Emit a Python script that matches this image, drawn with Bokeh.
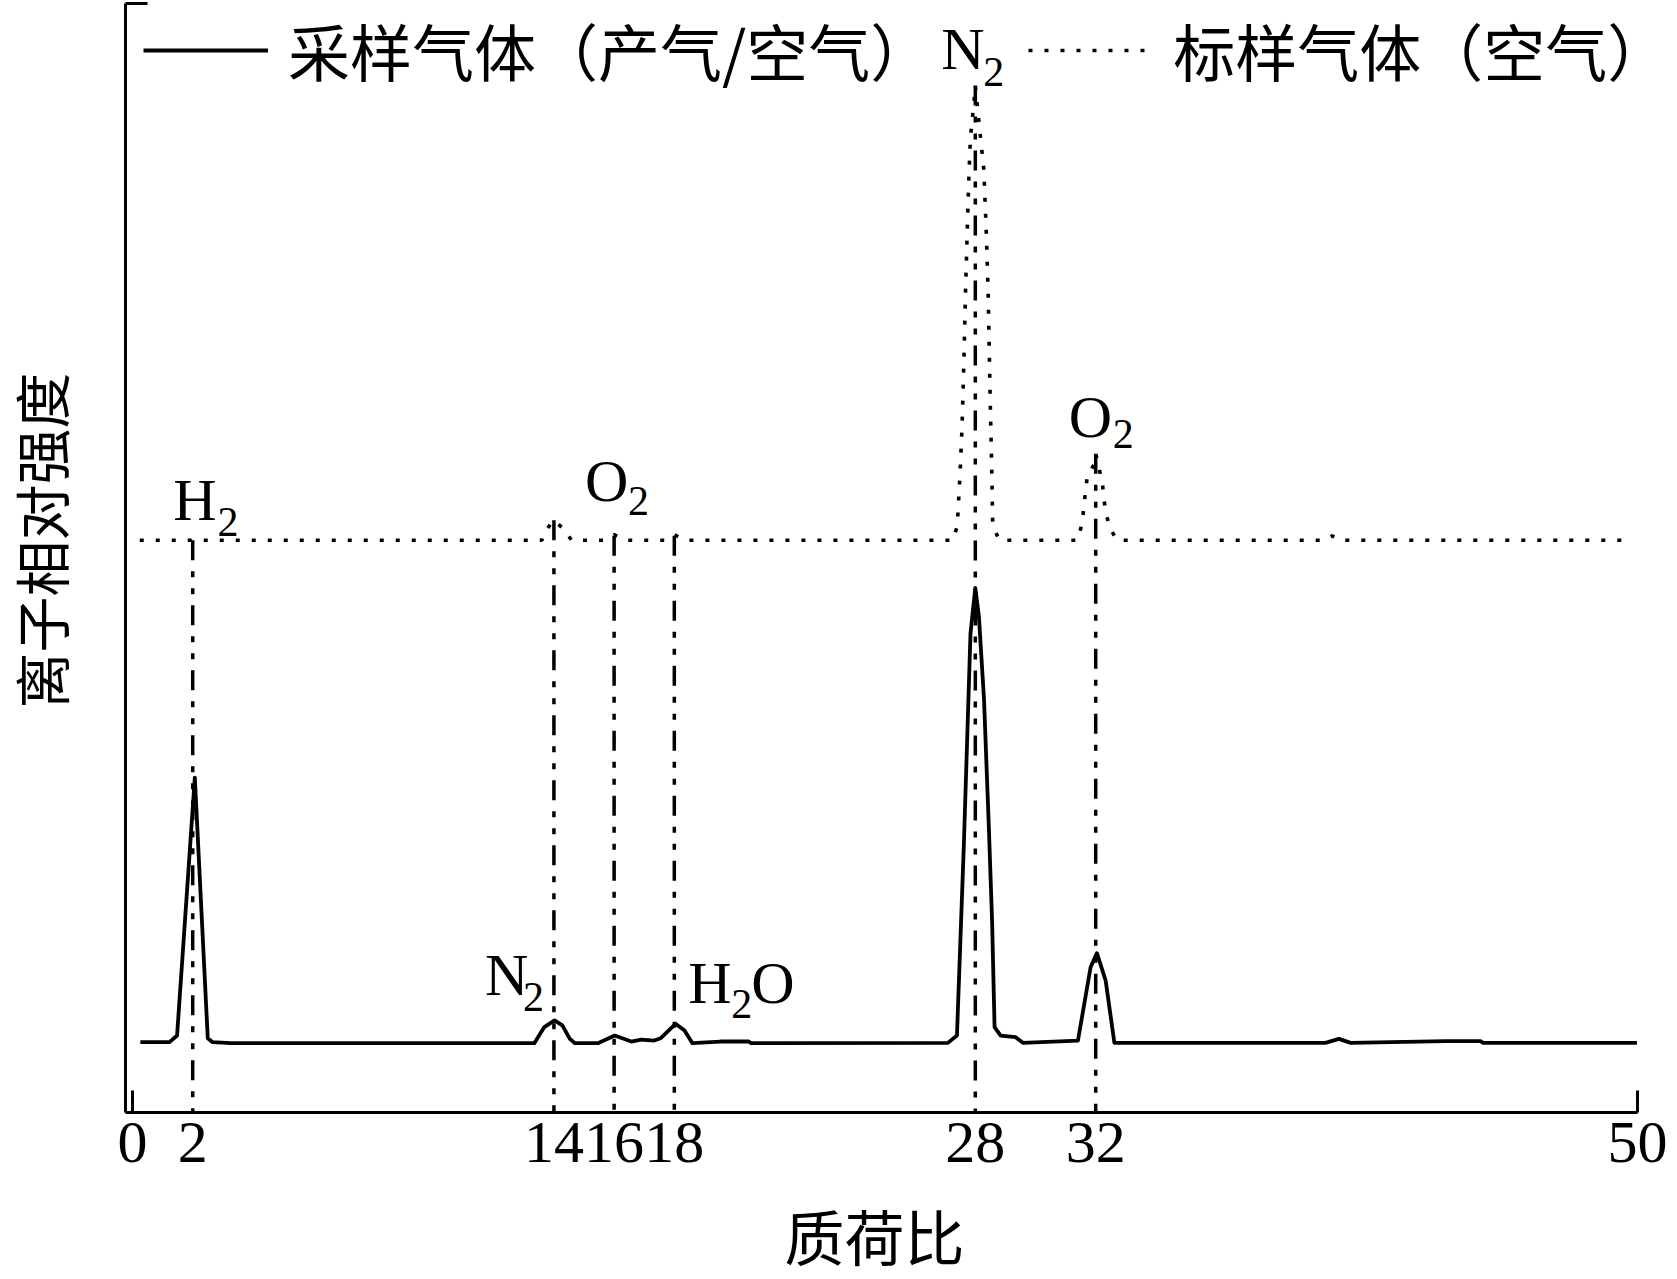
from bokeh.plotting import figure
from bokeh.models import Range1d, FixedTicker, Legend, LegendItem, ColumnDataSource, LinearAxis
from bokeh.embed import file_html
from bokeh.resources import INLINE
from bokeh.core.properties import value

# ---------------- data ----------------
# x: mass-to-charge ratio, y: relative ion intensity (arbitrary units, axis = 0)
sample_mz = [0.26, 1.23, 1.48, 2.07, 2.5, 2.66, 3.26,
             13.35, 13.68, 14.02, 14.28, 14.53, 14.7, 15.46, 16.02, 16.57, 16.9,
             17.33, 17.55, 18.04, 18.34, 18.6, 19.53, 20.47, 20.55,
             27.09, 27.39, 27.62, 27.84, 28.0, 28.12, 28.29, 28.45, 28.56, 28.64,
             28.84, 29.34, 29.58, 31.41, 31.83, 32.04, 32.33, 32.62,
             39.63, 40.08, 40.47, 43.62, 44.78, 44.87, 49.98]
sample_int = [6.34, 6.34, 6.94, 30.2, 6.7, 6.34, 6.25,
              6.25, 7.7, 8.3, 7.85, 6.64, 6.25, 6.25, 6.94, 6.4, 6.58,
              6.49, 6.7, 8.0, 7.4, 6.25, 6.4, 6.4, 6.25,
              6.28, 6.94, 24.2, 43.2, 47.3, 44.7, 37.2, 25.7, 17.0, 7.7,
              6.94, 6.79, 6.28, 6.49, 13.1, 14.37, 11.9, 6.28,
              6.28, 6.64, 6.28, 6.43, 6.43, 6.28, 6.28]

standard_mz = [0.24, 13.6, 13.65, 13.92, 14.0, 14.29, 14.59, 15.7, 16.0, 16.4,
               17.7, 18.0, 18.4,
               27.26, 27.4, 27.49, 27.56, 27.62, 27.67, 27.73, 27.78, 27.84, 27.95,
               28.0, 28.17, 28.28, 28.36, 28.43, 28.47, 28.5, 28.54, 28.58, 28.8,
               31.39, 31.55, 31.6, 31.72, 31.94, 32.0, 32.22, 32.27, 32.35, 32.49, 32.71,
               39.6, 39.85, 40.1, 49.5]
standard_int = [51.6, 51.6, 52.1, 53.2, 53.4, 52.7, 51.6, 51.6, 52.1, 51.6,
                51.6, 52.1, 51.6,
                51.6, 52.9, 57.4, 61.9, 67.7, 73.6, 79.3, 83.9, 88.0, 90.9,
                92.6, 88.0, 85.1, 79.7, 73.6, 67.7, 63.6, 58.7, 52.9, 51.6,
                51.6, 53.1, 54.5, 57.4, 58.4, 59.4, 56.8, 55.4, 53.9, 52.6, 51.6,
                51.6, 52.0, 51.6, 51.6]

# identified peaks
peak_mz = [2, 14, 16, 18, 28, 32]
peak_top = [51.6, 53.4, 52.0, 52.0, 92.6, 59.4]      # where the marker lines end
sample_peak = [30.2, 8.3, 6.94, 8.0, 47.3, 14.37]

x_ticks = [0, 2, 14, 16, 18, 28, 32, 50]
x_axis_bounds = (-0.233, 50)
y_axis_bounds = (0, 100)
series_names = ["采样气体（产气/空气）", "标样气体（空气）"]
x_title = "质荷比"
y_title = "离子相对强度"

# ---------------- figure geometry ----------------
W, H = 1677, 1279
PX_PER_X = 30.1
PX_PER_Y = 11.09
AXIS_LEFT_PX, AXIS_BOTTOM_PX = 125, 1112          # where the axes cross
x_start = x_axis_bounds[0] - AXIS_LEFT_PX / PX_PER_X
y_start = -(H - AXIS_BOTTOM_PX) / PX_PER_Y

p = figure(width=W, height=H,
           x_range=Range1d(x_start, x_start + W / PX_PER_X),
           y_range=Range1d(y_start, y_start + H / PX_PER_Y),
           output_backend="svg", toolbar_location=None,
           min_border=0, outline_line_color=None,
           background_fill_color="white", border_fill_color="white")
p.xgrid.visible = False
p.ygrid.visible = False

# marker lines (dash-dot-dot), drawn from the standard-gas peak down to the axis
p.segment(x0=peak_mz, y0=peak_top, x1=peak_mz, y1=[0] * len(peak_mz),
          line_color="black", line_width=3.5, line_dash="20 11 6 11 6 11")

solid_r = p.line(sample_mz, sample_int, line_color="black", line_width=3.8,
                 line_join="round")
dot_r = p.line(standard_mz, standard_int, line_color="black", line_width=3.6,
               line_dash="4 12")

# peak labels: main symbols and subscripts, anchored at peak positions
def lift(anchor, dy):
    # shift an anchor value upward by dy screen pixels
    return [a + d / PX_PER_Y for a, d in zip(anchor, dy)]

main_anchor = [peak_top[0], sample_peak[1], peak_top[2], sample_peak[3], sample_peak[3], peak_top[4], peak_top[5]]
main_src = ColumnDataSource(dict(
    x=[peak_mz[0], peak_mz[1], peak_mz[2], peak_mz[3], peak_mz[3], peak_mz[4], peak_mz[5]],
    y=lift(main_anchor, [40, 45, 55, 41, 41, 37, 37]),
    t=["H", "N", "O", "H", "O", "N", "O"],
    dx=[-19.5, -69, -29, 14, 77, -34, -27],
))
sub_anchor = [peak_top[0], sample_peak[1], peak_top[2], sample_peak[3], peak_top[4], peak_top[5]]
sub_src = ColumnDataSource(dict(
    x=[peak_mz[0], peak_mz[1], peak_mz[2], peak_mz[3], peak_mz[4], peak_mz[5]],
    y=lift(sub_anchor, [18, 23, 35, 20, 14, 20]),
    t=["2", "2", "2", "2", "2", "2"],
    dx=[24.8, -31, 14, 57, 8, 17],
))
p.text(x="x", y="y", text="t", x_offset="dx", source=main_src,
       text_font=value("Liberation Serif"), text_font_size=value("60px"),
       text_align="left", text_baseline="alphabetic", text_color="black")
p.text(x="x", y="y", text="t", x_offset="dx", source=sub_src,
       text_font=value("Liberation Serif"), text_font_size=value("42px"),
       text_align="left", text_baseline="alphabetic", text_color="black")

# ---------------- axes ----------------
xa = p.xaxis[0]
xa.fixed_location = y_axis_bounds[0]
xa.bounds = x_axis_bounds
xa.ticker = FixedTicker(ticks=x_ticks, minor_ticks=[x_ticks[0], x_ticks[-1]])
xa.axis_line_width = 3
xa.major_tick_in = 0
xa.major_tick_out = 0
xa.minor_tick_in = 22
xa.minor_tick_out = 0
xa.minor_tick_line_width = 3
xa.major_label_text_font = "Liberation Serif"
xa.major_label_text_font_size = "60px"
xa.major_label_text_color = "black"
xa.major_label_standoff = 10

ya = p.yaxis[0]
ya.fixed_location = x_axis_bounds[0]
ya.bounds = y_axis_bounds
ya.ticker = FixedTicker(ticks=[], minor_ticks=[y_axis_bounds[1]])
ya.axis_line_width = 3
ya.major_tick_in = 0
ya.major_tick_out = 0
ya.minor_tick_in = 22
ya.minor_tick_out = 0
ya.minor_tick_line_width = 3
ya.major_label_text_font_size = "0px"

# title-carrying axes (no line, no ticks), centred where the titles sit
x_title_axis = LinearAxis(fixed_location=y_axis_bounds[0], bounds=(x_axis_bounds[0], 49.53),
                          ticker=FixedTicker(ticks=[]), axis_line_color=None,
                          major_tick_line_color=None, minor_tick_line_color=None,
                          major_label_text_font_size="0px",
                          major_label_standoff=10,
                          axis_label=x_title, axis_label_text_font="Noto Sans CJK SC",
                          axis_label_text_font_size="60px", axis_label_text_font_style="normal",
                          axis_label_text_color="black", axis_label_standoff=78)
p.add_layout(x_title_axis, "below")

y_title_axis = LinearAxis(fixed_location=x_axis_bounds[0], bounds=(3.2, y_axis_bounds[1]),
                          ticker=FixedTicker(ticks=[]), axis_line_color=None,
                          major_tick_line_color=None, minor_tick_line_color=None,
                          major_label_text_font_size="0px",
                          axis_label=y_title, axis_label_text_font="Noto Sans CJK SC",
                          axis_label_text_font_size="56px", axis_label_text_font_style="normal",
                          axis_label_text_color="black", axis_label_standoff=46)
p.add_layout(y_title_axis, "left")

# ---------------- legend ----------------
legend = Legend(items=[LegendItem(label=series_names[0], renderers=[solid_r]),
                       LegendItem(label=series_names[1], renderers=[dot_r])],
                orientation="horizontal", location=(143, 1184),
                glyph_width=125, glyph_height=60, label_height=60,
                label_standoff=20, spacing=96, padding=0, margin=0,
                border_line_alpha=0, background_fill_alpha=0,
                label_text_font="Noto Sans CJK SC", label_text_font_size="62px",
                label_text_color="black")
p.add_layout(legend)

open("out.html", "w").write(file_html(p, INLINE))
